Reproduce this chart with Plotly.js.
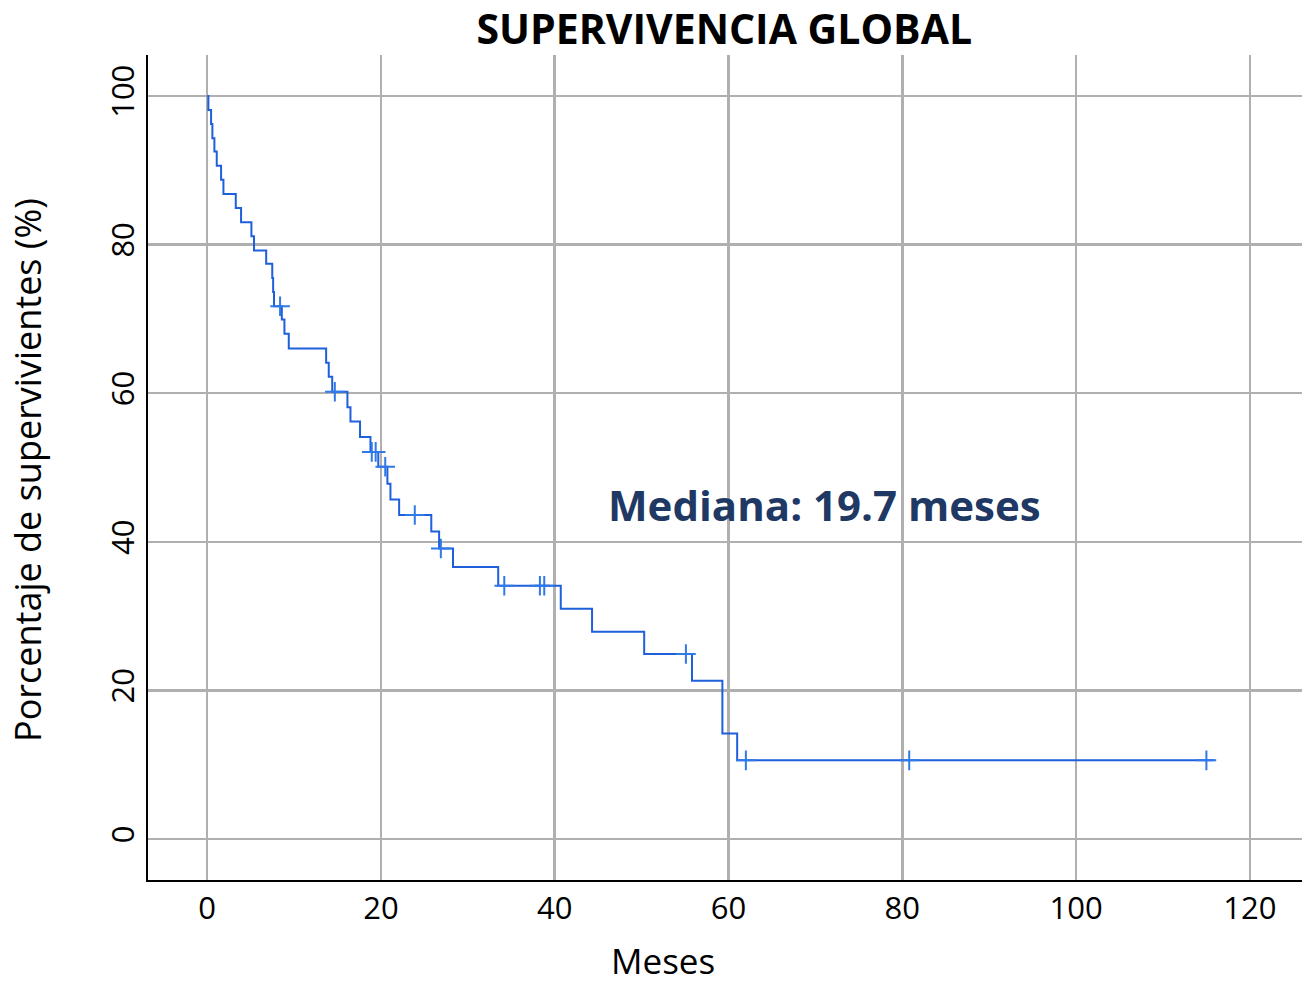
<!DOCTYPE html>
<html>
<head>
<meta charset="utf-8">
<script src="https://cdn.plot.ly/plotly-3.0.1.min.js"></script>
<style>html,body{margin:0;padding:0;background:#fff;}#chart{width:1305px;height:987px;}</style>
</head>
<body>
<div id="chart"></div>
<script>
// Kaplan-Meier step curve (months, % survivors)
var stepTimes = [0, 0.15, 0.46, 0.61, 0.84, 1.11, 1.61, 1.88, 3.30, 3.91, 5.1, 5.4, 6.8, 7.5, 7.6, 7.7, 8.6, 8.9, 9.4, 13.7, 14.0, 14.4, 16.15, 16.5, 17.6, 18.8, 19.7, 20.75, 21.1, 22.1, 25.8, 26.7, 28.3, 33.5, 40.7, 44.3, 50.3, 55.8, 59.3, 61.0, 115.9];
var stepSurv  = [100, 98.1, 96.2, 94.3, 92.5, 90.6, 88.7, 86.8, 84.9, 83.0, 81.1, 79.2, 77.4, 75.5, 73.6, 71.7, 69.9, 68.0, 66.0, 64.1, 62.2, 60.2, 58.1, 56.2, 54.1, 52.1, 50.1, 47.8, 45.7, 43.6, 41.4, 39.1, 36.6, 34.1, 31.0, 27.9, 24.9, 21.3, 14.2, 10.6, 10.6];
// Censored observations
var censorTimes = [8.4, 14.7, 18.95, 19.4, 20.5, 23.9, 26.9, 34.2, 38.3, 38.8, 55.1, 62.0, 80.8, 115.0];
var censorSurv  = [71.7, 60.2, 52.1, 52.1, 50.1, 43.6, 39.1, 34.1, 34.1, 34.1, 24.9, 10.6, 10.6, 10.6];
var xTicks = [0, 20, 40, 60, 80, 100, 120];
var yTicks = [0, 20, 40, 60, 80, 100];
var chartTitle = "SUPERVIVENCIA GLOBAL";
var xTitle = "Meses";
var yTitle = "Porcentaje de supervivientes (%)";
var medianLabel = "Mediana: 19.7 meses";

var font = "Open Sans, Liberation Sans, sans-serif";

var traces = [
  {
    x: stepTimes, y: stepSurv, type: "scatter", mode: "lines",
    line: {shape: "hv", color: "#1f5fdc", width: 2},
    hoverinfo: "skip", showlegend: false
  },
  {
    x: censorTimes, y: censorSurv, type: "scatter", mode: "markers",
    marker: {symbol: "cross-thin", size: 14, line: {color: "#2f7ae8", width: 2}},
    hoverinfo: "skip", showlegend: false
  }
];

var layout = {
  width: 1305, height: 987,
  paper_bgcolor: "#ffffff", plot_bgcolor: "#ffffff",
  margin: {l: 148, r: 3, t: 55, b: 107, pad: 0},
  font: {family: font, color: "#000"},
  title: {text: "<b>" + chartTitle + "</b>", x: 0.555, xanchor: "center", y: 0.97, yanchor: "middle",
          font: {family: font, size: 41, color: "#000"}},
  xaxis: {
    range: [-6.8, 126], tickvals: xTicks, ticktext: xTicks.map(String),
    showgrid: true, gridcolor: "#b0b0b0", gridwidth: 2.5, zeroline: false,
    showline: true, linecolor: "#000", linewidth: 2, ticks: "",
    tickfont: {size: 31, color: "#000"}
  },
  yaxis: {
    range: [-5.5, 105.5], tickvals: yTicks, ticktext: yTicks.map(String),
    showgrid: true, gridcolor: "#b0b0b0", gridwidth: 2.5, zeroline: false,
    showline: true, linecolor: "#000", linewidth: 2, ticks: "",
    tickangle: -90,
    tickfont: {size: 31, color: "#000"}
  },
  annotations: [
    {
      x: 71.1, y: 45, xref: "x", yref: "y", text: "<b>" + medianLabel + "</b>",
      showarrow: false, font: {family: font, size: 42, color: "#203864"}
    },
    {
      x: 0.4459, y: -0.097, xref: "paper", yref: "paper", xanchor: "center", yanchor: "middle",
      text: xTitle, showarrow: false, font: {family: font, size: 35, color: "#000"}
    },
    {
      x: -0.104, y: 0.497, xref: "paper", yref: "paper", xanchor: "center", yanchor: "middle",
      text: yTitle, textangle: -90, showarrow: false, font: {family: font, size: 36, color: "#000"}
    }
  ]
};

Plotly.newPlot("chart", traces, layout, {staticPlot: true, displayModeBar: false});
</script>
</body>
</html>
